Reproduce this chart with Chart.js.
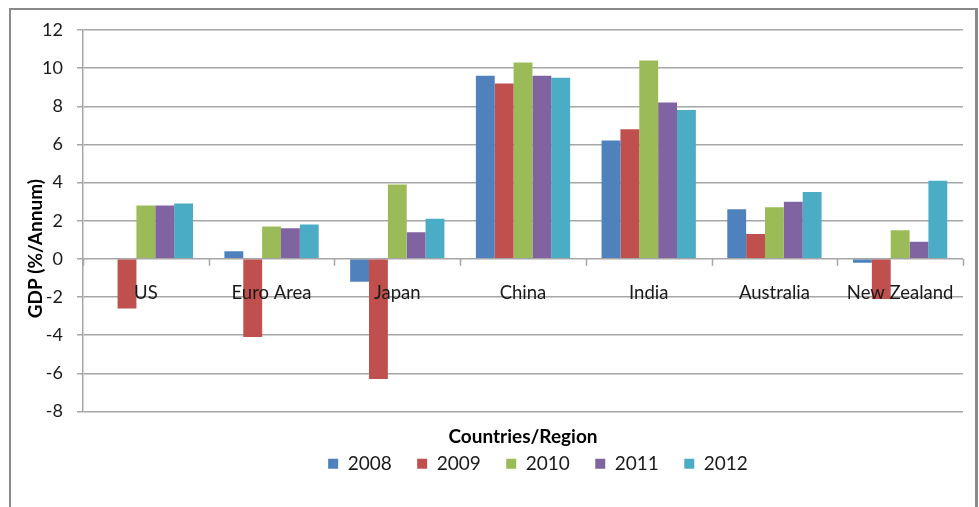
<!DOCTYPE html>
<html>
<head>
<meta charset="utf-8">
<script src="https://cdn.jsdelivr.net/npm/chart.js@4.4.1/dist/chart.umd.min.js"></script>
<style>
  html, body { margin: 0; padding: 0; width: 979px; height: 507px; overflow: hidden; background: #fff; }
  #frame { position: absolute; left: 9px; top: 8px; width: 964px; height: 520px; border: 2px solid #8a8a8a; border-right-width: 3px; pointer-events: none; z-index: 2; }
  #gdpChart { position: absolute; left: 0; top: 0; }
</style>
</head>
<body>
<div id="frame"></div>
<canvas id="gdpChart" width="1076" height="507"></canvas>
<script>
const categories = ['US', 'Euro Area', 'Japan', 'China', 'India', 'Australia', 'New Zealand'];
const years = ['2008', '2009', '2010', '2011', '2012'];
const gdp2008 = [0.0, 0.4, -1.2, 9.6, 6.2, 2.6, -0.2];
const gdp2009 = [-2.6, -4.1, -6.3, 9.2, 6.8, 1.3, -2.1];
const gdp2010 = [2.8, 1.7, 3.9, 10.3, 10.4, 2.7, 1.5];
const gdp2011 = [2.8, 1.6, 1.4, 9.6, 8.2, 3.0, 0.9];
const gdp2012 = [2.9, 1.8, 2.1, 9.5, 7.8, 3.5, 4.1];
const yMin = -8, yMax = 12, yStep = 2;

const seriesData = [gdp2008, gdp2009, gdp2010, gdp2011, gdp2012];
const seriesColors = ['#4F81BD', '#C0504D', '#9BBB59', '#8064A2', '#4BACC6'];
const plotLeft = 83, plotRight = 963;
const gridColor = '#a6a6a6';

Chart.defaults.font.family = 'Lato, "Open Sans", sans-serif';
Chart.defaults.font.size = 18;
Chart.defaults.color = '#1a1a1a';

// category names sit just under the zero line, with small ticks between groups
const zeroAxisLabels = {
    id: 'zeroAxisLabels',
    afterDatasetsDraw(chart) {
        const ctx = chart.ctx;
        const x = chart.scales.x;
        const y0 = chart.scales.y.getPixelForValue(0);
        const half = (x.getPixelForValue(1) - x.getPixelForValue(0)) / 2;
        ctx.save();
        ctx.strokeStyle = gridColor;
        ctx.lineWidth = 1.5;
        for (let i = 0; i <= categories.length; i++) {
            const px = Math.round(x.getPixelForValue(i) - half) + 0.5;
            ctx.beginPath();
            ctx.moveTo(px, y0);
            ctx.lineTo(px, y0 + 7);
            ctx.stroke();
        }
        ctx.fillStyle = '#1a1a1a';
        ctx.font = '18.5px Lato, "Open Sans", sans-serif';
        ctx.textAlign = 'center';
        ctx.textBaseline = 'middle';
        categories.forEach((c, i) => ctx.fillText(c, x.getPixelForValue(i), y0 + 34));

        const area = chart.chartArea;
        ctx.translate(35.5, (area.top + area.bottom) / 2 + 28);
        ctx.rotate(-Math.PI / 2);
        ctx.font = 'bold 19px Lato, "Open Sans", sans-serif';
        ctx.fillStyle = '#000';
        ctx.fillText('GDP (%/Annum)', 0, 0);
        ctx.restore();
    }
};

new Chart(document.getElementById('gdpChart'), {
    type: 'bar',
    data: {
        labels: categories,
        datasets: years.map((yr, i) => ({
            label: yr,
            data: seriesData[i],
            backgroundColor: seriesColors[i],
            borderWidth: 0,
            categoryPercentage: 0.75,
            barPercentage: 1
        }))
    },
    options: {
        responsive: false,
        animation: false,
        layout: { padding: { left: 0, right: 0, top: 30, bottom: 23.8 } },
        plugins: {
            tooltip: { enabled: false },
            legend: {
                position: 'bottom',
                labels: {
                    boxWidth: 10,
                    boxHeight: 10,
                    padding: 6,
                    color: '#1a1a1a',
                    font: { size: 19 },
                    generateLabels(chart) {
                        const items = Chart.defaults.plugins.legend.labels.generateLabels(chart);
                        items.forEach((it, i) => {
                            if (i < items.length - 1) it.text += '\u00a0'.repeat(4);
                        });
                        return items;
                    }
                }
            }
        },
        scales: {
            x: {
                grid: { display: false, drawTicks: false },
                border: { display: false },
                ticks: { display: false },
                title: {
                    display: true,
                    text: 'Countries/Region',
                    color: '#000',
                    font: { size: 19, weight: 'bold' },
                    padding: { top: 14, bottom: 0 }
                }
            },
            y: {
                min: yMin,
                max: yMax,
                ticks: { stepSize: yStep, padding: 14 },
                grid: { color: gridColor, lineWidth: 1.5, tickLength: 6 },
                border: { color: gridColor, width: 1.5 },
                afterFit(scale) { scale.width = plotLeft; }
            },
            spacer: {
                position: 'right',
                grid: { display: false },
                ticks: { display: false },
                border: { display: false },
                afterFit(scale) { scale.width = scale.chart.width - plotRight; }
            }
        }
    },
    plugins: [zeroAxisLabels]
});
</script>
</body>
</html>
